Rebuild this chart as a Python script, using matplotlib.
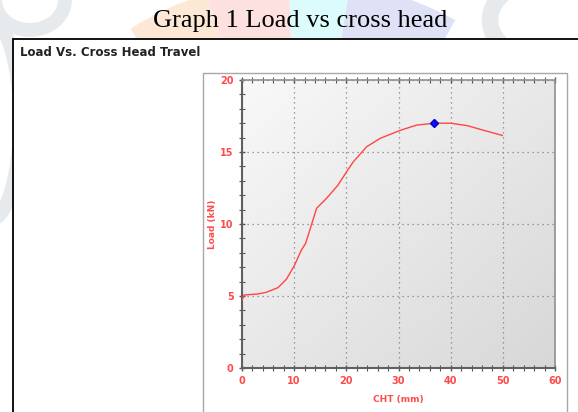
import numpy as np
import matplotlib
matplotlib.use("Agg")
import matplotlib.pyplot as plt
from matplotlib.patches import Rectangle, Wedge, Ellipse
from matplotlib.ticker import MultipleLocator

# values
cht_mm = [0.0, 0.4, 3.0, 4.6, 6.9, 8.5, 10.1, 10.6, 11.4, 12.2, 13.0, 14.3, 16.2,
          18.4, 20.0, 21.3, 23.9, 26.5, 30.3, 33.5, 36.9, 40.0, 43.2, 46.4, 49.9]
load_kn = [4.7, 5.07, 5.14, 5.25, 5.58, 6.16, 7.15, 7.57, 8.2, 8.66, 9.58, 11.09, 11.78,
           12.7, 13.6, 14.3, 15.37, 15.95, 16.5, 16.87, 17.0, 17.0, 16.83, 16.5, 16.15]
peak_x, peak_y = 36.9, 17.0

red = "#ff4a4a"
W, H = 578, 412

fig = plt.figure(figsize=(W / 100, H / 100), dpi=100)

# page layer in pixel coordinates (y grows downward)
bg = fig.add_axes([0, 0, 1, 1])
bg.set_xlim(0, W)
bg.set_ylim(H, 0)
bg.axis("off")

# faint watermark behind the page title
for t1, t2, col in [(238, 253, "#fde8d6"), (253, 268, "#fde0e0"),
                    (268, 279, "#dcfbfc"), (279, 299, "#dfe2f6")]:
    bg.add_patch(Wedge((300, 300), 320, t1, t2, fc=col, ec="none", zorder=0))
bg.add_patch(Ellipse((-10, 120), 60, 200, fc="none", ec="#e6eaed", lw=10, zorder=0))
bg.add_patch(Ellipse((30, 0), 70, 60, fc="none", ec="#e6eaed", lw=10, zorder=0))
bg.add_patch(Ellipse((545, 20), 110, 80, fc="none", ec="#e6eaed", lw=12, zorder=0))

# outer black frame (white inside) and inner grey chart box
bg.add_patch(Rectangle((13, 39), 600, 400, fc="white", ec="black", lw=1.3, zorder=1))
bg.add_patch(Rectangle((203, 73), 364, 400, fill=False, ec="#a8a8a8", lw=1.0, zorder=2))

bg.text(300, 21, "Graph 1 Load vs cross head", ha="center", va="center",
        fontsize=19, family="Liberation Serif", color="black", zorder=3)
bg.text(20, 52, "Load Vs. Cross Head Travel", ha="left", va="center",
        fontsize=8.5, fontweight="bold", family="DejaVu Sans", color="#222222", zorder=3)

ax = fig.add_axes([242 / W, 1 - 368 / H, (555 - 242) / W, (368 - 80) / H])

# diagonal grey gradient, light top-left to darker bottom-right
gx, gy = np.meshgrid(np.linspace(0, 1, 200), np.linspace(0, 1, 200))
v = (gx + gy) / 2
shade = 0.975 - 0.13 * v
img = np.dstack([shade, shade, shade])
ax.imshow(img, extent=[0, 1, 0, 1], transform=ax.transAxes,
          aspect="auto", zorder=0, origin="upper")

ax.plot(cht_mm, load_kn, color="#ff4545", lw=1.0, zorder=3)
ax.plot([peak_x], [peak_y], marker="D", ms=4, color="#1010ff", mec="#0000cc", zorder=4)

ax.set_xlim(0, 60)
ax.set_ylim(0, 20)
ax.xaxis.set_major_locator(MultipleLocator(10))
ax.xaxis.set_minor_locator(MultipleLocator(2))
ax.yaxis.set_major_locator(MultipleLocator(5))
ax.yaxis.set_minor_locator(MultipleLocator(1))
ax.grid(True, which="major", color="#808080", ls=(0, (1, 3)), lw=0.9, zorder=1)

ax.tick_params(axis="both", which="both", colors="#555555", labelcolor=red,
               labelsize=7, direction="inout")
ax.tick_params(which="major", length=5, width=1.0)
ax.tick_params(which="minor", length=4, width=0.8)
ax.tick_params(axis="x", which="both", top=True, pad=3)
for lab in ax.get_xticklabels() + ax.get_yticklabels():
    lab.set_fontweight("bold")

for side in ["left", "bottom"]:
    ax.spines[side].set_color("#606060")
    ax.spines[side].set_linewidth(1.5)
for side in ["top", "right"]:
    ax.spines[side].set_color("#909090")
    ax.spines[side].set_linewidth(1.2)

ax.set_xlabel("CHT (mm)", color=red, fontsize=6.5, fontweight="bold", labelpad=7)
ax.set_ylabel("Load (kN)", color=red, fontsize=6.5, fontweight="bold", labelpad=2)

fig.savefig("out.png", dpi=100)
